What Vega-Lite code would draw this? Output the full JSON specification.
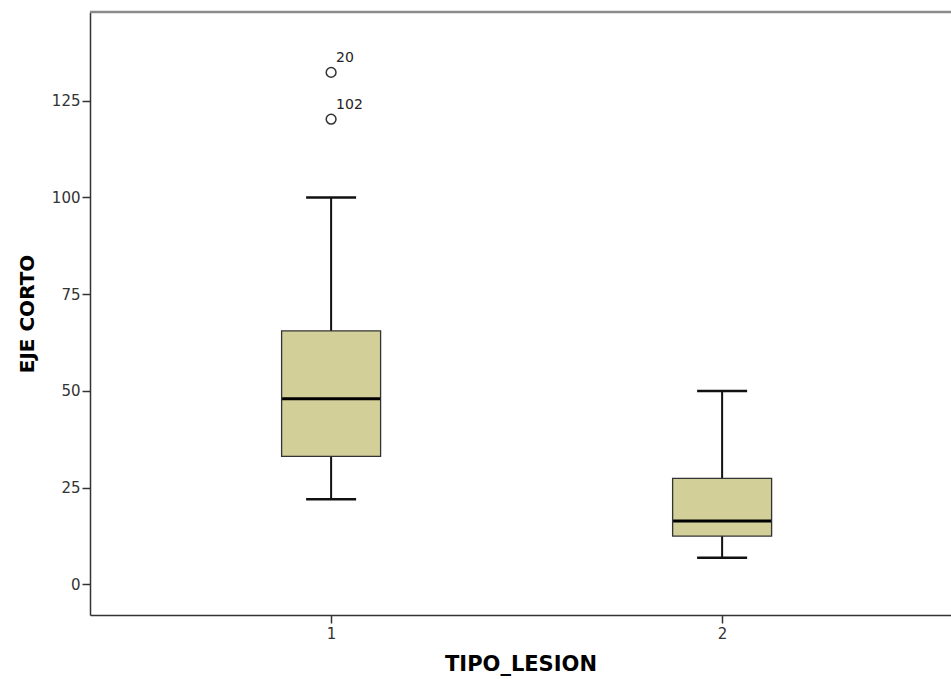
{
  "$schema": "https://vega.github.io/schema/vega-lite/v6.json",
  "width": 861,
  "height": 603,
  "autosize": "none",
  "padding": {"left": 90, "top": 12, "right": 0, "bottom": 64},
  "background": "white",
  "view": {"stroke": null},
  "config": {
    "font": "DejaVu Sans",
    "axis": {
      "domainColor": "#333333",
      "domainWidth": 1.5,
      "tickColor": "#333333",
      "tickWidth": 1.5,
      "tickSize": 8,
      "labelColor": "#333333",
      "labelFontSize": 15,
      "labelFont": "DejaVu Sans",
      "titleFont": "DejaVu Sans",
      "titleFontSize": 20,
      "titleFontWeight": "bold",
      "titleColor": "#000000",
      "grid": false
    }
  },
  "datasets": {
    "boxes": [
      {"tipo": "1", "lower": 22.0, "q1": 33.1, "median": 48.0, "q3": 65.5, "upper": 100.0},
      {"tipo": "2", "lower": 6.9, "q1": 12.5, "median": 16.4, "q3": 27.4, "upper": 50.0}
    ],
    "outliers": [
      {"tipo": "1", "value": 132.3, "label": "20"},
      {"tipo": "1", "value": 120.2, "label": "102"}
    ]
  },
  "layer": [
    {
      "data": {"name": "boxes"},
      "mark": {"type": "rule", "color": "#111111", "strokeWidth": 2},
      "encoding": {
        "x": {
          "field": "tipo",
          "type": "ordinal",
          "title": "TIPO_LESION",
          "scale": {"type": "point", "padding": 0.601, "align": 0.513, "domain": ["1", "2"]},
          "axis": {"labelAngle": 0, "labelPadding": 3, "titlePadding": 12, "tickSize": 8, "titleFontSize": 21}
        },
        "y": {
          "field": "lower",
          "type": "quantitative",
          "title": "EJE CORTO",
          "scale": {"domain": [-7.9, 147.9], "nice": false, "zero": false},
          "axis": {"values": [0, 25, 50, 75, 100, 125], "labelPadding": 2, "titlePadding": 14}
        },
        "y2": {"field": "upper"}
      }
    },
    {
      "data": {"name": "boxes"},
      "mark": {"type": "bar", "width": 99, "fill": "#d3cf99", "stroke": "#333333", "strokeWidth": 1.3},
      "encoding": {
        "x": {"field": "tipo", "type": "ordinal"},
        "y": {"field": "q1", "type": "quantitative"},
        "y2": {"field": "q3"}
      }
    },
    {
      "data": {"name": "boxes"},
      "mark": {"type": "tick", "size": 98, "thickness": 3, "color": "#000000", "opacity": 1},
      "encoding": {
        "x": {"field": "tipo", "type": "ordinal"},
        "y": {"field": "median", "type": "quantitative"}
      }
    },
    {
      "data": {"name": "boxes"},
      "mark": {"type": "tick", "size": 50, "thickness": 2.5, "color": "#111111", "opacity": 1},
      "encoding": {
        "x": {"field": "tipo", "type": "ordinal"},
        "y": {"field": "lower", "type": "quantitative"}
      }
    },
    {
      "data": {"name": "boxes"},
      "mark": {"type": "tick", "size": 50, "thickness": 2.5, "color": "#111111", "opacity": 1},
      "encoding": {
        "x": {"field": "tipo", "type": "ordinal"},
        "y": {"field": "upper", "type": "quantitative"}
      }
    },
    {
      "data": {"name": "outliers"},
      "mark": {"type": "point", "shape": "circle", "size": 95, "filled": false, "stroke": "#333333", "strokeWidth": 1.5, "opacity": 1},
      "encoding": {
        "x": {"field": "tipo", "type": "ordinal"},
        "y": {"field": "value", "type": "quantitative"}
      }
    },
    {
      "data": {"name": "outliers"},
      "mark": {"type": "text", "align": "left", "baseline": "middle", "dx": 5, "dy": -14, "fontSize": 14, "color": "#222222", "font": "DejaVu Sans"},
      "encoding": {
        "x": {"field": "tipo", "type": "ordinal"},
        "y": {"field": "value", "type": "quantitative"},
        "text": {"field": "label"}
      }
    },
    {
      "data": {"values": [{}]},
      "mark": {"type": "rule", "color": "#8a8a8a", "strokeWidth": 2.5},
      "encoding": {
        "y": {"datum": 147.9}
      }
    }
  ]
}
